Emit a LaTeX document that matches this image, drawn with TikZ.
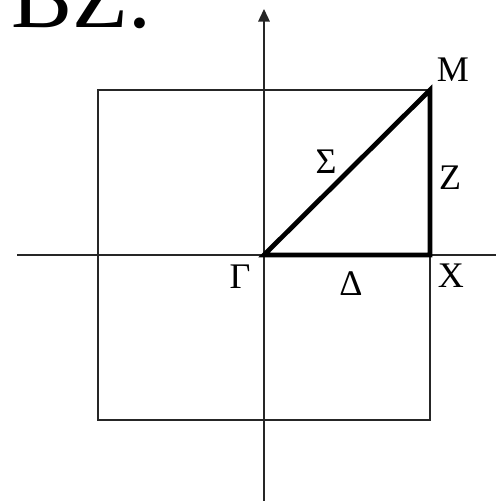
\documentclass[tikz,border=0pt]{standalone}
\usepackage{fontspec}
\setmainfont{Liberation Serif}
\usetikzlibrary{arrows.meta}
\tikzset{
  bzaxis/.style={line width=0.8pt, black!85},
  bzbox/.style={line width=0.8pt, black!85},
  bzpath/.style={line width=2.7pt, black, line cap=round, line join=miter},
  bzlabel/.style={inner sep=0pt, font=\fontsize{20.5}{24}\selectfont},
}

\begin{document}
\begin{tikzpicture}[x=0.02cm, y=-0.02cm]
  \clip (0,0) rectangle (496,501);

  % title, cut at the top edge
  \node[anchor=base west, inner sep=0pt, font=\fontsize{52}{58}\selectfont] (title) at (11,27) {BZ.};

  % axes
  \coordinate (xl) at (17,255);
  \coordinate (xr) at (496,255);
  \coordinate (yb) at (264,501);
  \coordinate (yt) at (264,9);
  \draw[bzaxis] (xl) -- (xr);
  \draw[bzaxis, -{Triangle[length=2.5mm, width=2.3mm]}] (yb) -- (yt);

  % zone boundary
  \draw[bzbox] (98,90) rectangle (430,420);

  % irreducible wedge
  \coordinate (G) at (264,255);
  \coordinate (X) at (430,255);
  \coordinate (M) at (430,90);
  \draw[bzpath] (G) -- (X) -- (M) -- cycle;

  \node[bzlabel] (lG) at (240,277) {Γ};
  \node[bzlabel] (lD) at (351,284) {Δ};
  \node[bzlabel] (lX) at (451,276) {X};
  \node[bzlabel] (lZ) at (450,178) {Z};
  \node[bzlabel] (lM) at (453,70) {M};
  \node[bzlabel] (lS) at (326,162) {Σ};
\end{tikzpicture}
\end{document}
